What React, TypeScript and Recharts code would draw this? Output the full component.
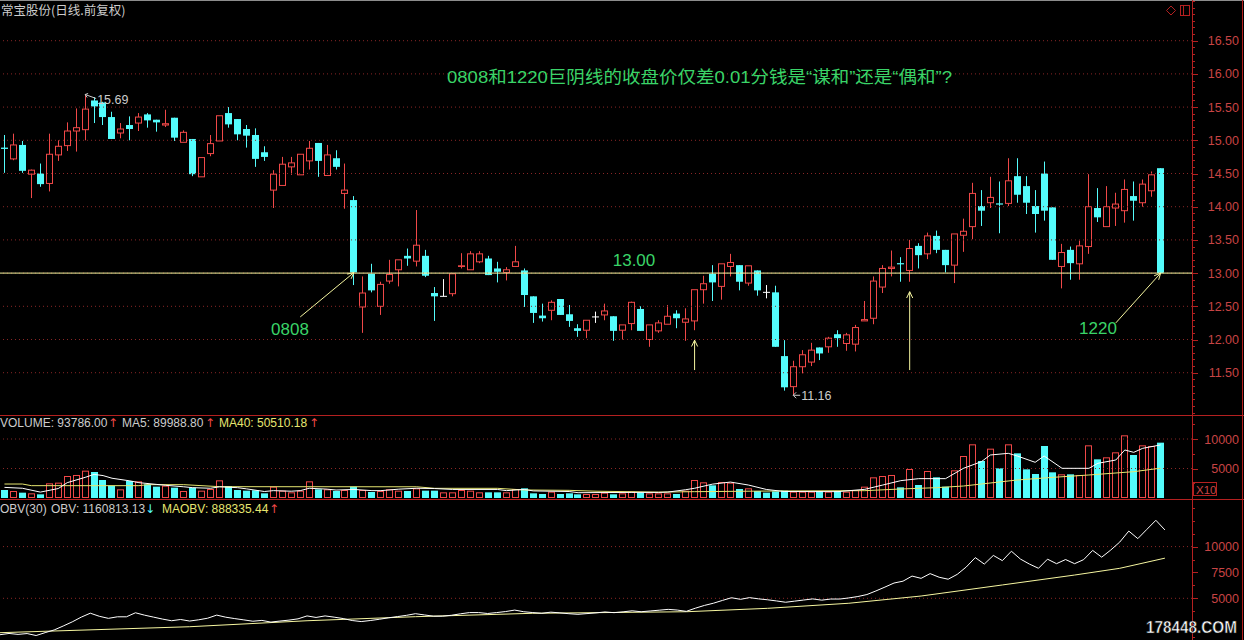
import React from 'react';
import { ComposedChart, Bar, Line, XAxis, YAxis, ReferenceLine, ReferenceDot } from 'recharts';

// ---- daily bars (price in yuan) ----
const opens = [
  14.89, 14.72, 14.93, 14.49, 14.50, 14.35, 14.78, 14.92, 15.14, 15.16,
  15.60, 15.57, 15.35, 15.11, 15.23, 15.26, 15.39, 15.31, 15.23, 15.34,
  14.97, 15.02, 14.45, 14.80, 14.99, 15.41, 15.32, 15.17, 15.08, 14.82,
  14.25, 14.32, 14.60, 14.48, 14.69, 14.96, 14.47, 14.73, 14.20, 14.10,
  12.49, 12.99, 12.50, 12.88, 13.05, 13.26, 13.18, 13.26, 12.70, 12.65,
  12.69, 13.10, 13.05, 13.17, 13.22, 13.07, 13.01, 13.10, 13.04, 12.65,
  12.36, 12.44, 12.61, 12.38, 12.17, 12.14, 12.34, 12.37, 12.35, 12.14,
  12.24, 12.46, 12.00, 12.13, 12.23, 12.39, 12.26, 12.28, 12.75, 12.99,
  12.80, 13.10, 13.12, 12.85, 13.04, 12.71, 12.71, 11.75, 11.29, 11.59,
  11.66, 11.88, 11.89, 12.08, 11.94, 11.93, 12.28, 12.32, 12.79, 13.07,
  13.15, 13.04, 13.41, 13.29, 13.56, 13.35, 13.12, 13.57, 13.70, 14.01,
  14.06, 14.05, 14.05, 14.46, 14.31, 14.01, 14.50, 13.99, 13.10, 13.35,
  13.14, 13.40, 13.98, 13.70, 13.98, 13.94, 14.16, 14.06, 14.24, 14.58,
];
const highs = [
  15.08, 15.10, 14.99, 14.56, 14.65, 15.10, 15.00, 15.27, 15.48, 15.69,
  15.65, 15.58, 15.43, 15.26, 15.36, 15.41, 15.41, 15.31, 15.46, 15.34,
  15.15, 15.02, 14.74, 15.08, 15.37, 15.50, 15.32, 15.23, 15.18, 14.91,
  14.55, 14.75, 14.75, 14.79, 14.99, 14.96, 14.93, 14.85, 14.65, 14.16,
  12.95, 13.14, 12.87, 13.20, 13.20, 13.37, 13.95, 13.35, 12.79, 12.91,
  12.99, 13.30, 13.33, 13.33, 13.26, 13.17, 13.09, 13.41, 13.07, 12.65,
  12.54, 12.59, 12.61, 12.52, 12.23, 12.29, 12.42, 12.54, 12.35, 12.22,
  12.57, 12.50, 12.22, 12.29, 12.52, 12.44, 12.47, 12.75, 12.96, 13.12,
  13.14, 13.29, 13.12, 13.11, 13.04, 12.82, 12.81, 11.99, 11.68, 11.84,
  11.95, 11.88, 12.04, 12.14, 12.10, 12.22, 12.58, 12.95, 13.12, 13.34,
  13.24, 13.50, 13.45, 13.61, 13.64, 13.35, 13.59, 13.82, 14.36, 14.25,
  14.45, 14.38, 14.73, 14.73, 14.46, 14.25, 14.68, 13.99, 13.44, 13.40,
  13.49, 14.49, 14.28, 14.31, 14.21, 14.41, 14.38, 14.41, 14.53, 14.58,
];
const lows = [
  14.51, 14.70, 14.51, 14.13, 14.30, 14.23, 14.69, 14.84, 14.83, 15.00,
  15.26, 15.23, 15.02, 15.03, 15.00, 15.14, 15.19, 15.13, 15.20, 14.99,
  14.97, 14.46, 14.45, 14.76, 14.99, 15.19, 15.00, 14.89, 14.60, 14.69,
  13.98, 14.32, 14.48, 14.48, 14.56, 14.45, 14.47, 14.56, 13.97, 12.82,
  12.10, 12.71, 12.37, 12.84, 12.80, 13.11, 13.10, 12.94, 12.28, 12.65,
  12.65, 13.07, 13.05, 13.15, 12.97, 12.86, 12.89, 13.10, 12.49, 12.25,
  12.27, 12.29, 12.37, 12.19, 12.04, 12.02, 12.25, 12.29, 11.98, 12.00,
  12.14, 12.13, 11.89, 12.10, 12.23, 12.17, 11.98, 12.14, 12.54, 12.58,
  12.60, 12.95, 12.74, 12.81, 12.66, 12.62, 11.89, 11.23, 11.16, 11.49,
  11.60, 11.69, 11.80, 11.89, 11.83, 11.82, 12.28, 12.23, 12.70, 12.95,
  12.87, 12.87, 13.07, 13.21, 13.30, 13.01, 12.85, 13.32, 13.51, 13.71,
  13.98, 13.60, 14.01, 14.06, 13.89, 13.61, 13.79, 13.20, 12.77, 12.90,
  12.90, 13.29, 13.77, 13.70, 13.71, 13.76, 13.79, 14.00, 14.15, 13.00,
];
const closes = [
  14.87, 14.93, 14.54, 14.55, 14.34, 14.79, 14.91, 15.14, 15.19, 15.47,
  15.51, 15.35, 15.02, 15.17, 15.17, 15.35, 15.30, 15.27, 15.25, 15.04,
  15.12, 14.49, 14.74, 14.95, 15.37, 15.24, 15.09, 15.07, 14.72, 14.75,
  14.49, 14.64, 14.66, 14.79, 14.88, 14.69, 14.78, 14.60, 14.25, 13.01,
  12.70, 12.74, 12.83, 12.98, 13.20, 13.22, 13.42, 12.96, 12.65, 12.65,
  12.99, 13.11, 13.29, 13.29, 12.97, 13.02, 13.05, 13.17, 12.67, 12.40,
  12.32, 12.56, 12.37, 12.28, 12.13, 12.29, 12.34, 12.43, 12.13, 12.22,
  12.56, 12.13, 12.22, 12.25, 12.35, 12.32, 12.31, 12.75, 12.84, 12.86,
  13.14, 13.16, 12.87, 13.11, 12.74, 12.71, 11.89, 11.28, 11.59, 11.77,
  11.84, 11.79, 12.02, 12.02, 12.07, 12.18, 12.30, 12.88, 13.07, 13.09,
  13.14, 13.37, 13.27, 13.56, 13.35, 13.12, 13.59, 13.63, 14.20, 13.94,
  14.14, 14.04, 14.39, 14.18, 14.06, 13.89, 13.94, 13.20, 13.31, 13.15,
  13.41, 14.00, 13.84, 14.00, 14.04, 14.26, 14.09, 14.34, 14.48, 13.00,
];

// ---- volume, in units of 10 lots (axis is marked X10) ----
const volumes = [
  1356, 1187, 904, 791, 622, 2486, 2600, 3729, 3900, 4633,
  4407, 3051, 2090, 1469, 2882, 2825, 2317, 1921, 2090, 1752,
  1187, 1752, 1243, 1526, 2995, 2034, 1356, 1243, 1300, 791,
  1921, 1243, 960, 1243, 2825, 1469, 1469, 1187, 1356, 1921,
  1356, 1017, 1187, 1469, 1243, 1187, 1639, 1243, 1243, 960,
  960, 1356, 1243, 960, 960, 960, 960, 1526, 1639, 791,
  678, 1074, 678, 791, 622, 678, 678, 904, 622, 791,
  1074, 904, 791, 791, 791, 678, 1243, 3051, 2656, 2147,
  2712, 2600, 1526, 1639, 1187, 904, 1130, 1243, 1074, 1074,
  1074, 1187, 1074, 1187, 1074, 1356, 1921, 3503, 3729, 3900,
  1808, 4916, 2204, 4577, 3503, 1921, 4690, 7119, 9097, 6272,
  8362, 5029, 9097, 7571, 4859, 4068, 8814, 4351, 4012, 4012,
  3900, 8927, 6554, 6893, 7741, 10622, 7289, 8927, 8814, 9378.6,
];
// volume moving averages: [day index, value]
const ma5Points: [number, number][] = [
  [0, 1800], [2, 1650], [4, 1000], [6, 1600], [7, 2600], [9, 3500], [10, 4000], [11, 3800],
  [12, 3350], [14, 2900], [15, 2600], [17, 2300], [18, 2150], [20, 1900], [21, 1750], [23, 1650],
  [24, 1900], [26, 1750], [27, 1550], [29, 1100], [30, 1250], [32, 1150], [33, 1250], [34, 1650],
  [36, 1500], [37, 1350], [39, 1450], [41, 1250], [42, 1250], [44, 1500], [46, 1650], [48, 1600],
  [50, 1450], [55, 1450], [56, 1250], [58, 1450], [59, 1200], [63, 1100], [64, 900], [70, 950],
  [73, 950], [74, 1000], [76, 1400], [77, 1650], [79, 2350], [81, 2700], [83, 2200], [85, 1450],
  [87, 1100], [93, 1080], [96, 1470], [98, 2200], [100, 2940], [102, 3280], [105, 3280], [107, 5030],
  [109, 6160], [110, 7290], [112, 7570], [113, 7120], [115, 6050], [116, 7120], [118, 5030], [121, 5030],
  [122, 5880], [124, 6440], [125, 8140], [126, 7740], [127, 8420], [129, 8998.88],
];
const ma40Points: [number, number][] = [
  [0, 2370], [2, 2370], [3, 2090], [15, 2090], [16, 2260], [20, 2260], [24, 1920], [46, 1900],
  [48, 1640], [55, 1640], [58, 1360], [63, 1300], [66, 1150], [73, 1000], [77, 1074], [86, 1187],
  [96, 1243], [100, 1526], [104, 1752], [107, 2034], [109, 2373], [113, 3051], [117, 3503],
  [121, 3900], [126, 4464], [129, 5051.018],
];

// ---- OBV, in hundreds ----
const obv = [
  1480, 1600, 1510, 1590, 1400, 1680, 1940, 2320, 2720, 3180,
  3560, 3260, 3060, 3210, 3210, 3600, 3370, 3180, 2990, 2830,
  2950, 2800, 2920, 3075, 3375, 3172, 3036, 2912, 2782, 2861,
  2700, 2800, 2890, 3013, 3296, 3149, 3296, 3177, 3041, 2849,
  2750, 2850, 2970, 3110, 3230, 3350, 3510, 3390, 3270, 3270,
  3360, 3500, 3620, 3620, 3530, 3620, 3720, 3860, 3700, 3620,
  3550, 3660, 3590, 3510, 3450, 3520, 3590, 3680, 3610, 3690,
  3790, 3700, 3775, 3850, 3929, 3861, 3737, 4042, 4308, 4523,
  4794, 5054, 4901, 5065, 4946, 4856, 4743, 4619, 4726, 4833,
  4940, 4821, 4928, 4928, 5035, 5171, 5363, 5713, 6086, 6476,
  6657, 7149, 6929, 7387, 7037, 6845, 7314, 8026, 8936, 8309,
  9145, 8642, 9552, 8795, 8309, 7902, 8783, 8348, 8749, 8348,
  8738, 9631, 8976, 9665, 10439, 11501, 10772, 11665, 12546, 11608.1313,
];
const maobvPoints: [number, number][] = [
  [0, 1673], [21, 2250], [34, 2830], [46, 3220], [59, 3550], [76, 3700], [85, 4030],
  [94, 4520], [102, 5220], [111, 6290], [119, 7250], [124, 7900], [129, 8883.3544],
];

// ---- axes ----
const priceLabels = [11.5, 12, 12.5, 13, 13.5, 14, 14.5, 15, 15.5, 16, 16.5];
const priceDomain: [number, number] = [10.863, 17.113];
const volumeLabels = [5000, 10000];
const volumeDomain: [number, number] = [0, 14068];
const obvLabels = [5000, 7500, 10000];
const obvDomain: [number, number] = [967, 14603];

// ---- annotations ----
const KEY_LEVEL = 13.0;
const HIGH_MARK = { i: 9, price: 15.69 };
const LOW_MARK = { i: 88, price: 11.16 };
const pointerArrows = [
  { from: { x: 33, y: 12.34 }, to: { x: 39, y: closes[39] } },
  { from: { x: 124, y: 12.25 }, to: { x: 129, y: closes[129] } },
  { from: { x: 77, y: 11.54 }, to: { x: 77, y: 11.99 } },
  { from: { x: 101, y: 11.54 }, to: { x: 101, y: 12.72 } },
];
const HEADLINE = '0808和1220巨阴线的收盘价仅差0.01分钱是“谋和”还是“偶和”?';

const WIDTH = 1244;
const AXIS_W = 52;
const SLOTS = 133; // trading days plus empty room at the right edge

const UP = '#f04848';
const DOWN = '#54fcfc';
const FLAT = '#ffffff';
const FRAME = '#b42020';
const GRID = '#8a2626';
const LABEL = '#c84444';
const PALE = '#f6f6a0';
const MA40_COLOR = '#e6e670';
const GREEN = '#3ad468';
const TEXT = '#cccccc';
const FONT = '"Liberation Sans", Arial, sans-serif';
const CJK = '"Liberation Sans", "Noto Sans CJK SC", sans-serif';

type Row = { [k: string]: number | undefined };

const rows: Row[] = Array.from({ length: SLOTS }, (_, i) => {
  const r: Row = { i };
  if (i < closes.length) {
    r.o = opens[i];
    r.h = highs[i];
    r.l = lows[i];
    r.c = closes[i];
    r.pc = i > 0 ? closes[i - 1] : opens[i];
    r.v = volumes[i];
    r.obv = obv[i];
  }
  return r;
});
ma5Points.forEach(([i, v]) => { rows[i].ma5 = v; });
ma40Points.forEach(([i, v]) => { rows[i].ma40 = v; });
maobvPoints.forEach(([i, v]) => { rows[i].maobv = v; });

const last = closes.length - 1;

function candleColor(d: Row) {
  if ((d.c as number) > (d.o as number)) return UP;
  if ((d.c as number) < (d.o as number)) return DOWN;
  return FLAT;
}
function volumeColor(d: Row) {
  const c = candleColor(d);
  if (c !== FLAT) return c;
  return (d.c as number) >= (d.pc as number) ? UP : DOWN;
}

function Candle(props: any) {
  const { x, y, width, height, payload } = props;
  if (!payload || payload.h == null || !Number.isFinite(y) || !Number.isFinite(height)) return null;
  const top = Math.min(y, y + height);
  const span = Math.abs(height);
  const k = span / (payload.h - payload.l);
  const py = (p: number) => top + (payload.h - p) * k;
  const cx = Math.floor(x + width / 2) + 0.5;
  const color = candleColor(payload);
  const yo = py(payload.o);
  const yc = py(payload.c);
  const bTop = Math.min(yo, yc);
  const bBot = Math.max(yo, yc);
  const yl = top + span;
  if (color === UP) {
    return (
      <g>
        <line x1={cx} x2={cx} y1={top} y2={bTop} stroke={UP} />
        <line x1={cx} x2={cx} y1={bBot} y2={yl} stroke={UP} />
        <rect x={cx - 3} y={bTop} width={6} height={Math.max(bBot - bTop, 0.6)} fill="none" stroke={UP} />
      </g>
    );
  }
  if (color === DOWN) {
    return (
      <g>
        <line x1={cx} x2={cx} y1={top} y2={yl} stroke={DOWN} />
        <rect x={cx - 3.5} y={bTop} width={7} height={Math.max(bBot - bTop, 1.2)} fill={DOWN} />
      </g>
    );
  }
  return (
    <g>
      <line x1={cx} x2={cx} y1={top} y2={yl} stroke={FLAT} />
      <line x1={cx - 3.5} x2={cx + 3.5} y1={yo} y2={yo} stroke={FLAT} />
    </g>
  );
}

function VolumeBar(props: any) {
  const { x, y, width, height, payload } = props;
  if (!payload || payload.v == null || !Number.isFinite(y) || !Number.isFinite(height)) return null;
  const cx = Math.floor(x + width / 2) + 0.5;
  const top = Math.min(y, y + height);
  const bottom = Math.max(y, y + height);
  const color = volumeColor(payload);
  if (color === UP) {
    return <rect x={cx - 3} y={top + 0.5} width={6} height={Math.max(bottom - top - 1, 0.5)} fill="none" stroke={UP} />;
  }
  return <rect x={cx - 3.5} y={top} width={7} height={bottom - top} fill={DOWN} />;
}

function makeTick(labels: number[], fmt: (v: number) => string) {
  return (props: any) => {
    const { x, y, payload } = props;
    const v = payload.value as number;
    const major = labels.some((l) => Math.abs(l - v) < 1e-6);
    const yy = Math.round(y) + 0.5;
    return (
      <g>
        <line x1={x} x2={x + (major ? 6 : 3)} y1={yy} y2={yy} stroke={FRAME} />
        {major && (
          <text x={x + 47} y={y} dy={4.5} textAnchor="end" fill={LABEL} fontSize={12.5} fontFamily={FONT}>
            {fmt(v)}
          </text>
        )}
      </g>
    );
  };
}

const priceTicks = Array.from({ length: 63 }, (_, k) => Math.round((10.9 + k * 0.1) * 10) / 10);
const volumeTicks = [2500, 5000, 7500, 10000, 12500];
const obvTicks = Array.from({ length: 11 }, (_, k) => 1250 * (k + 1));

function Pointer(props: any) {
  const { x1, y1, x2, y2 } = props;
  if (![x1, y1, x2, y2].every(Number.isFinite)) return null;
  const ang = Math.atan2(y2 - y1, x2 - x1);
  const len = 7;
  const a1 = ang + Math.PI - 0.45;
  const a2 = ang + Math.PI + 0.45;
  return (
    <g stroke={PALE} strokeWidth={1} fill="none">
      <line x1={x1} y1={y1} x2={x2} y2={y2} />
      <line x1={x2} y1={y2} x2={x2 + len * Math.cos(a1)} y2={y2 + len * Math.sin(a1)} />
      <line x1={x2} y1={y2} x2={x2 + len * Math.cos(a2)} y2={y2 + len * Math.sin(a2)} />
    </g>
  );
}

function HighMarker(props: any) {
  const { cx, cy } = props;
  if (!Number.isFinite(cx) || !Number.isFinite(cy)) return null;
  return (
    <g>
      <polyline points={`${cx + 3},${cy - 1} ${cx},${cy} ${cx + 2},${cy + 3}`} stroke={TEXT} fill="none" />
      <line x1={cx} y1={cy} x2={cx + 11} y2={cy + 4} stroke={TEXT} />
      <text x={cx + 12} y={cy + 10} fill={TEXT} fontSize={12.5} fontFamily={FONT}>
        {HIGH_MARK.price.toFixed(2)}
      </text>
    </g>
  );
}

function LowMarker(props: any) {
  const { cx, cy } = props;
  if (!Number.isFinite(cx) || !Number.isFinite(cy)) return null;
  return (
    <g>
      <line x1={cx} y1={cy} x2={cx + 7} y2={cy} stroke={TEXT} />
      <polyline points={`${cx + 3},${cy - 3} ${cx},${cy} ${cx + 3},${cy + 3}`} stroke={TEXT} fill="none" />
      <text x={cx + 8} y={cy + 4.5} fill={TEXT} fontSize={12.5} fontFamily={FONT}>
        {LOW_MARK.price.toFixed(2)}
      </text>
    </g>
  );
}

const xAxis = <XAxis dataKey="i" type="category" hide />;

function PricePanel() {
  return (
    <ComposedChart width={WIDTH} height={415} data={rows} margin={{ top: 0, right: 0, bottom: 0, left: 0 }}>
      {xAxis}
      <YAxis
        orientation="right"
        width={AXIS_W}
        domain={priceDomain}
        allowDataOverflow
        ticks={priceTicks}
        interval={0}
        tickSize={0}
        tickMargin={0}
        tickLine={false}
        axisLine={false}
        tick={makeTick(priceLabels, (v) => v.toFixed(2))}
      />
      {priceLabels.map((p) => (
        <ReferenceLine key={p} y={p} stroke={GRID} strokeDasharray="1 3" />
      ))}
      <Bar
        dataKey={(d: Row) => (d.h == null ? undefined : [d.l, d.h])}
        shape={<Candle />}
        isAnimationActive={false}
      />
      <ReferenceLine y={KEY_LEVEL} stroke={PALE} strokeWidth={1} />
      {pointerArrows.map((a, k) => (
        <ReferenceLine key={k} segment={[a.from, a.to]} shape={Pointer} ifOverflow="visible" />
      ))}
      <ReferenceDot x={HIGH_MARK.i} y={HIGH_MARK.price} r={0} shape={HighMarker} />
      <ReferenceDot x={LOW_MARK.i} y={LOW_MARK.price} r={0} shape={LowMarker} />
    </ComposedChart>
  );
}

function VolumePanel() {
  return (
    <ComposedChart width={WIDTH} height={84} data={rows} margin={{ top: 0, right: 0, bottom: 1, left: 0 }}>
      {xAxis}
      <YAxis
        orientation="right"
        width={AXIS_W}
        domain={volumeDomain}
        allowDataOverflow
        ticks={volumeTicks}
        interval={0}
        tickSize={0}
        tickMargin={0}
        tickLine={false}
        axisLine={false}
        tick={makeTick(volumeLabels, (v) => String(v))}
      />
      {volumeLabels.map((v) => (
        <ReferenceLine key={v} y={v} stroke={GRID} strokeDasharray="1 3" />
      ))}
      <Bar dataKey="v" shape={<VolumeBar />} isAnimationActive={false} />
      <Line dataKey="ma40" stroke={MA40_COLOR} strokeWidth={1} dot={false} connectNulls isAnimationActive={false} />
      <Line dataKey="ma5" stroke="#ffffff" strokeWidth={1} dot={false} connectNulls isAnimationActive={false} />
    </ComposedChart>
  );
}

function ObvPanel() {
  return (
    <ComposedChart width={WIDTH} height={141} data={rows} margin={{ top: 0, right: 0, bottom: 0, left: 0 }}>
      {xAxis}
      <YAxis
        orientation="right"
        width={AXIS_W}
        domain={obvDomain}
        allowDataOverflow
        ticks={obvTicks}
        interval={0}
        tickSize={0}
        tickMargin={0}
        tickLine={false}
        axisLine={false}
        tick={makeTick(obvLabels, (v) => String(v))}
      />
      {[5000, 10000].map((v) => (
        <ReferenceLine key={v} y={v} stroke={GRID} strokeDasharray="1 3" />
      ))}
      <Line dataKey="maobv" stroke={PALE} strokeWidth={1} dot={false} connectNulls isAnimationActive={false} />
      <Line dataKey="obv" stroke="#ffffff" strokeWidth={1} dot={false} isAnimationActive={false} />
    </ComposedChart>
  );
}

const ARROW_FONT = '"DejaVu Sans", sans-serif';

function Overlay() {
  return (
    <svg width={WIDTH} height={640} style={{ position: 'absolute', left: 0, top: 0, pointerEvents: 'none' }}>
      {/* frame */}
      <line x1={0} x2={WIDTH} y1={0.5} y2={0.5} stroke="#8c8c8c" />
      <line x1={1192.5} x2={1192.5} y1={0} y2={640} stroke={FRAME} />
      <line x1={1242.5} x2={1242.5} y1={0} y2={640} stroke={FRAME} />
      <line x1={0} x2={WIDTH} y1={415.5} y2={415.5} stroke={FRAME} />
      <line x1={0} x2={WIDTH} y1={499.5} y2={499.5} stroke={FRAME} />

      {/* header */}
      <text x={1} y={15} fill={TEXT} fontSize={12.5} fontFamily={'"Noto Sans CJK SC", sans-serif'}>
        常宝股份(日线.前复权)
      </text>
      <path d="M1171 6 L1175.5 10.5 L1171 15 L1166.5 10.5 Z" fill="none" stroke={FRAME} />
      <rect x={1180.5} y={5.5} width={9} height={10} fill="none" stroke={FRAME} />
      <line x1={1183.5} x2={1183.5} y1={5.5} y2={15.5} stroke={FRAME} />

      {/* notes */}
      <text
        x={447}
        y={83}
        fill={GREEN}
        fontSize={17}
        fontFamily={CJK}
        textLength={505}
        lengthAdjust="spacingAndGlyphs"
      >
        {HEADLINE}
      </text>
      <text x={634} y={266} fill={GREEN} fontSize={17} textAnchor="middle" fontFamily={FONT}>
        {KEY_LEVEL.toFixed(2)}
      </text>
      <text x={290} y={335} fill={GREEN} fontSize={17} textAnchor="middle" fontFamily={FONT}>0808</text>
      <text x={1098} y={334} fill={GREEN} fontSize={17} textAnchor="middle" fontFamily={FONT}>1220</text>

      {/* volume legend */}
      <g fontSize={12} fontFamily={FONT}>
        <text x={0} y={427} fill={TEXT}>VOLUME: {(volumes[last] * 10).toFixed(2)}</text>
        <text x={108} y={427} fill={UP} fontFamily={ARROW_FONT}>↑</text>
        <text x={122} y={427} fill={TEXT}>MA5: {(ma5Points[ma5Points.length - 1][1] * 10).toFixed(2)}</text>
        <text x={205} y={427} fill={UP} fontFamily={ARROW_FONT}>↑</text>
        <text x={219} y={427} fill={MA40_COLOR}>MA40: {(ma40Points[ma40Points.length - 1][1] * 10).toFixed(2)}</text>
        <text x={309} y={427} fill={UP} fontFamily={ARROW_FONT}>↑</text>
      </g>
      <rect x={1193.5} y={482.5} width={23} height={13} fill="none" stroke={FRAME} />
      <text x={1196} y={493.5} fill={LABEL} fontSize={11.5} fontFamily={FONT}>X10</text>

      {/* obv legend */}
      <g fontSize={12} fontFamily={FONT}>
        <text x={0} y={513} fill={TEXT}>OBV(30)</text>
        <text x={51} y={513} fill={TEXT}>OBV: {(obv[last] * 100).toFixed(2)}</text>
        <text x={145} y={513} fill={DOWN} fontFamily={ARROW_FONT}>↓</text>
        <text x={162} y={513} fill={MA40_COLOR}>MAOBV: {(maobvPoints[maobvPoints.length - 1][1] * 100).toFixed(2)}</text>
        <text x={269} y={513} fill={UP} fontFamily={ARROW_FONT}>↑</text>
      </g>

      {/* site mark */}
      <text
        x={1146}
        y={633}
        fill="#ffffff"
        stroke="#202020"
        strokeWidth={0.6}
        fontSize={17}
        fontWeight="bold"
        fontFamily={FONT}
        textLength={91}
        lengthAdjust="spacingAndGlyphs"
      >
        178448.COM
      </text>
    </svg>
  );
}

export default function App() {
  return (
    <div style={{ position: 'fixed', left: 0, top: 0, width: WIDTH, height: 640, background: '#000', overflow: 'hidden' }}>
      <div style={{ position: 'absolute', left: 0, top: 0 }}>
        <PricePanel />
      </div>
      <div style={{ position: 'absolute', left: 0, top: 415 }}>
        <VolumePanel />
      </div>
      <div style={{ position: 'absolute', left: 0, top: 499 }}>
        <ObvPanel />
      </div>
      <Overlay />
    </div>
  );
}
